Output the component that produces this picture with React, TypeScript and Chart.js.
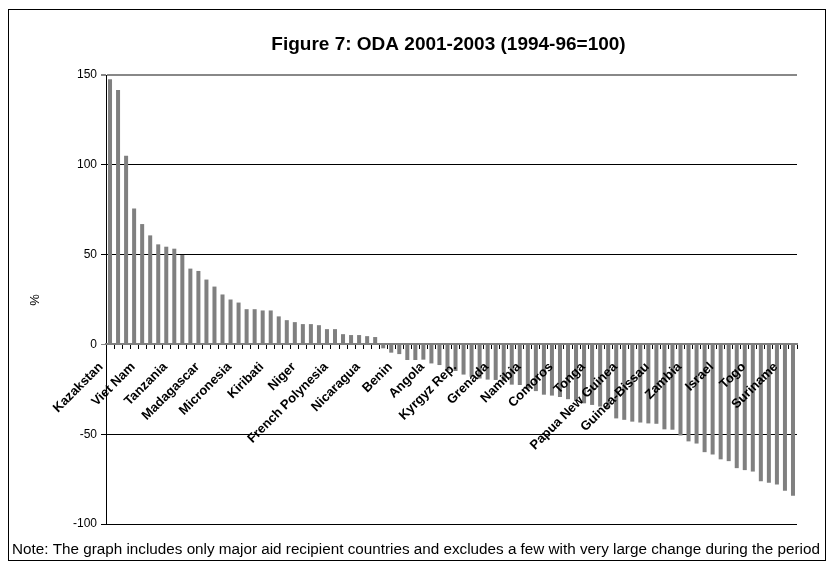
import React, { useEffect, useRef } from "react";
import { Chart, registerables } from "chart.js";

Chart.register(...registerables);

// Category names (only every fourth country is labelled in the original figure)
const labelledCountries = [
  "Kazakstan", "Viet Nam", "Tanzania", "Madagascar", "Micronesia", "Kiribati",
  "Niger", "French Polynesia", "Nicaragua", "Benin", "Angola", "Kyrgyz Rep.",
  "Grenada", "Namibia", "Comoros", "Tonga", "Papua New Guinea", "Guinea-Bissau",
  "Zambia", "Israel", "Togo", "Suriname",
];

// ODA 2001-2003 relative to 1994-96 (% change), one value per country, sorted
const odaChange = [
  147.6, 141.7, 105.0, 75.7, 67.0, 60.7, 55.7, 54.4, 53.3, 49.8,
  42.2, 40.9, 36.1, 32.2, 27.8, 25.0, 23.3, 19.6, 19.6, 18.9,
  18.9, 15.6, 13.5, 12.4, 11.3, 11.3, 10.7, 8.5, 8.5, 5.7,
  5.2, 5.2, 4.6, 4.1, -2.2, -4.6, -5.4, -8.7, -8.7, -8.5,
  -10.6, -11.5, -14.6, -14.8, -16.8, -18.0, -19.0, -19.6, -19.8, -20.5,
  -22.4, -22.6, -24.6, -26.0, -28.0, -28.5, -29.3, -30.5, -31.5, -32.8,
  -33.7, -34.6, -35.6, -41.2, -42.0, -43.0, -43.5, -44.0, -44.2, -47.3,
  -47.5, -50.7, -54.0, -55.2, -60.0, -61.3, -64.0, -65.0, -68.9, -70.0,
  -70.8, -76.2, -77.0, -78.0, -81.5, -84.3,
];

const categories = odaChange.map((_, i) =>
  i % 4 === 0 ? labelledCountries[i / 4] ?? "" : ""
);

const yTicks = [150, 100, 50, 0, -50, -100];
const titleText = "Figure 7: ODA 2001-2003 (1994-96=100)";
const yAxisTitle = "%";
const noteText =
  "Note: The graph includes only major aid recipient countries and excludes a few with very large change during the period";

const FONT = "'Liberation Sans', Arial, sans-serif";

const decorPlugin = {
  id: "decor",
  afterDraw(chart: any) {
    const { ctx, chartArea } = chart;
    ctx.save();
    // outer frame
    ctx.strokeStyle = "#000";
    ctx.lineWidth = 1;
    ctx.strokeRect(8.5, 9.5, 817, 551);
    // title
    ctx.fillStyle = "#000";
    ctx.font = `bold 19px ${FONT}`;
    ctx.textAlign = "center";
    ctx.textBaseline = "middle";
    ctx.fillText(titleText, (chartArea.left + chartArea.right) / 2 - 3, 45);
    // y axis title
    ctx.save();
    ctx.translate(35, 300);
    ctx.rotate(-Math.PI / 2);
    ctx.font = `13px ${FONT}`;
    ctx.fillText(yAxisTitle, 0, 0);
    ctx.restore();
    // note
    ctx.font = `15.25px ${FONT}`;
    ctx.textAlign = "left";
    ctx.fillText(noteText, 12, 550);
    ctx.restore();
  },
};

export default function App() {
  const ref = useRef<HTMLCanvasElement | null>(null);
  useEffect(() => {
    if (!ref.current) return;
    const chart = new Chart(ref.current, {
      type: "bar",
      data: {
        labels: categories,
        datasets: [
          {
            data: odaChange,
            backgroundColor: "#808080",
            borderWidth: 0,
            categoryPercentage: 1,
            barPercentage: 0.5,
          },
        ],
      },
      options: {
        animation: false,
        responsive: false,
        events: [],
        layout: { padding: { left: 8, top: 75, right: 36, bottom: 43 } },
        plugins: {
          legend: { display: false },
          title: { display: false },
          tooltip: { enabled: false },
        },
        scales: {
          x: {
            position: { y: 0 } as any,
            offset: true,
            grid: {
              display: true,
              drawOnChartArea: false,
              drawTicks: true,
              tickLength: 4,
              color: "#000",
              offset: true,
              z: 1,
            },
            border: { display: true, color: "#808080", width: 2, z: 1 },
            ticks: {
              z: 2,
              autoSkip: false,
              minRotation: 45,
              maxRotation: 45,
              padding: 11,
              labelOffset: -9,
              color: "#000",
              font: { family: FONT, size: 13, weight: "bold" },
            },
          },
          y: {
            min: -100,
            max: 150,
            afterBuildTicks: (s: any) => {
              s.ticks = yTicks.map((v) => ({ value: v }));
            },
            afterFit: (s: any) => {
              s.width = 98;
            },
            ticks: {
              color: "#000",
              padding: 4,
              font: { family: FONT, size: 12 },
            },
            grid: {
              color: (c: any) =>
                c.tick && (c.tick.value === 150 || c.tick.value === 0) ? "#888" : "#000",
              lineWidth: (c: any) => (c.tick && c.tick.value === 150 ? 2 : 1),
              tickLength: 5,
            },
            border: { display: true, color: "#000", width: 1 },
          },
        },
      },
      plugins: [decorPlugin],
    });
    return () => chart.destroy();
  }, []);
  return (
    <div style={{ position: "absolute", left: 0, top: 0, width: 833, height: 567, background: "#fff" }}>
      <canvas ref={ref} width={833} height={567} style={{ width: 833, height: 567 }} />
    </div>
  );
}
